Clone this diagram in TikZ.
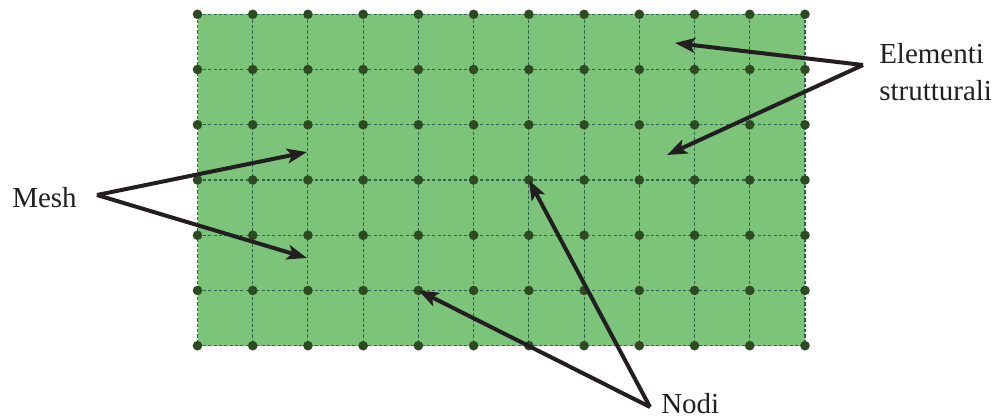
\documentclass[tikz,border=0pt]{standalone}
\usepackage{fontspec}
\setmainfont{Liberation Serif}
\usetikzlibrary{arrows.meta}
\definecolor{meshfill}{HTML}{7DC47B}
\definecolor{dotcol}{HTML}{2D4A22}
\definecolor{gridcol}{HTML}{2E6650}
\definecolor{arrcol}{HTML}{231F20}
\tikzset{
  gridline/.style={draw=gridcol, line width=0.8pt, dash pattern=on 2.4pt off 1.6pt},
  meshdot/.style={circle, inner sep=0pt, minimum size=7.2pt, fill=dotcol},
  pointer/.style={draw=arrcol, line width=3pt, line join=miter,
    -{Stealth[length=15pt, width=11pt, inset=3.5pt]}},
  txtlabel/.style={font=\fontsize{21.75}{27.75}\selectfont, inner sep=0pt, anchor=base west, text=arrcol}
}
\begin{document}
\begin{tikzpicture}[x=0.75pt,y=-0.75pt]
\useasboundingbox (0,0) rectangle (1001,418);
\fill[meshfill] (197.5,14.3) rectangle (805,345.7);
\foreach \i in {0,...,11} {
  \draw[gridline] (197.5+\i*55.227,14.3) -- (197.5+\i*55.227,345.7);
}
\foreach \j in {0,...,6} {
  \draw[gridline] (197.5,14.3+\j*55.233) -- (805,14.3+\j*55.233);
}
\foreach \i in {0,...,11} {
  \foreach \j in {0,...,6} {
    \node[meshdot] (n-\i-\j) at (197.5+\i*55.227,14.3+\j*55.233) {};
  }
}
% labels
\node[txtlabel] (mesh) at (12,207) {Mesh};
\node[txtlabel] (elem1) at (879,63) {Elementi};
\node[txtlabel] (elem2) at (879,100) {strutturali};
\node[txtlabel] (nodi) at (661,413) {Nodi};
% arrow origins and targets
\coordinate (meshsrc) at (97,195);
\coordinate (elemsrc) at (863,65);
\coordinate (nodisrc) at (650,407);
\coordinate (meshA) at (307,152);
\coordinate (meshB) at (307,258);
\coordinate (elemA) at (675,43);
\coordinate (elemB) at (667,155);
% arrows
\draw[pointer] (meshsrc) -- (meshA);
\draw[pointer] (meshsrc) -- (meshB);
\draw[pointer] (elemsrc) -- (elemA);
\draw[pointer] (elemsrc) -- (elemB);
\draw[pointer] (nodisrc) -- (n-6-3.center);
\draw[pointer] (nodisrc) -- (n-4-5.center);
\end{tikzpicture}
\end{document}
